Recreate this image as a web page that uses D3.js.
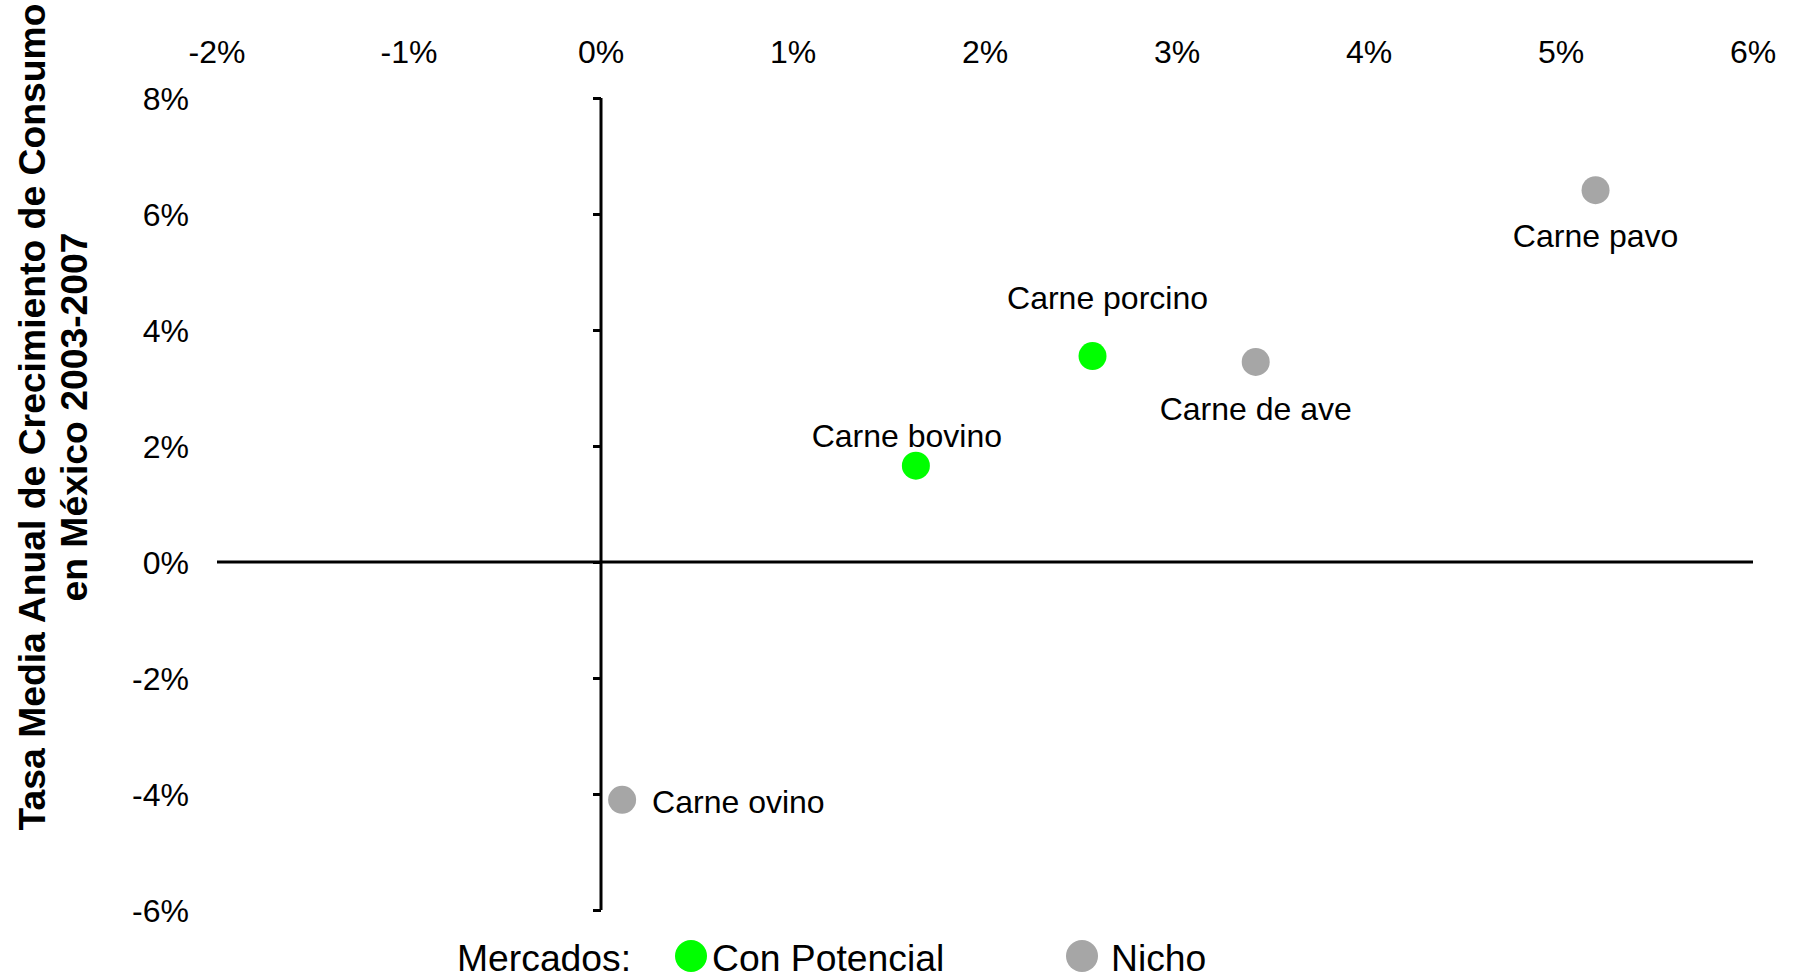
<!DOCTYPE html>
<html>
<head>
<meta charset="utf-8">
<script src="https://cdn.jsdelivr.net/npm/d3@7"></script>
<style>
    body { margin: 0; background: #fff; }
    svg { display: block; font-family: "Liberation Sans", Arial, sans-serif; }
</style>
</head>
<body>
<svg></svg>
<script>
// data (percent)
let products = ["Carne pavo", "Carne porcino", "Carne de ave", "Carne bovino", "Carne ovino"];
let growthWorld = [5.18, 2.56, 3.41, 1.64, 0.11];   // x
let growthMexico = [6.41, 3.55, 3.45, 1.66, -4.10]; // y
let market = ["Nicho", "Con Potencial", "Nicho", "Con Potencial", "Nicho"];

let xTicks = [-2, -1, 0, 1, 2, 3, 4, 5, 6];
let yTicks = [-6, -4, -2, 0, 2, 4, 6, 8];
let legendItems = ["Con Potencial", "Nicho"];

// where each label sits around its dot
let labelPlace = {
    "Carne pavo": { dx: 0, dy: 57, anchor: "middle" },
    "Carne porcino": { dx: 15, dy: -47, anchor: "middle" },
    "Carne de ave": { dx: 0, dy: 58, anchor: "middle" },
    "Carne bovino": { dx: -9, dy: -19, anchor: "middle" },
    "Carne ovino": { dx: 30, dy: 13, anchor: "start" }
};

const WIDTH = 1793, HEIGHT = 978;
let colors = d3.scaleOrdinal().domain(legendItems).range(["#00ff00", "#a6a6a6"]);

let svg = d3.select("svg").attr("width", WIDTH).attr("height", HEIGHT);

let x = d3.scaleLinear().domain([-2, 6]).range([217, 1753]),
    y = d3.scaleLinear().domain([-6, 8]).range([910, 98]);

let data = products.map((p, i) => ({ name: p, x: growthWorld[i], y: growthMexico[i], market: market[i] }));

// x tick labels on top, no axis line
svg.append("g")
    .selectAll("text")
    .data(xTicks)
    .join("text")
    .attr("x", d => x(d))
    .attr("y", 63)
    .attr("text-anchor", "middle")
    .attr("font-size", 32)
    .text(d => d + "%");

// horizontal zero line
svg.append("line")
    .attr("x1", x(-2)).attr("x2", x(6))
    .attr("y1", y(0)).attr("y2", y(0))
    .attr("stroke", "#000").attr("stroke-width", 3);

// vertical axis at x = 0
let yAxis = svg.append("g")
    .attr("transform", "translate(" + x(0) + ",0)")
    .call(d3.axisLeft(y).tickValues(yTicks).tickSize(8).tickFormat(""));
yAxis.select(".domain").attr("stroke-width", 3).attr("d", "M0," + y(8) + "V" + y(-6));
yAxis.selectAll(".tick line").attr("stroke-width", 3);

svg.append("g")
    .selectAll("text")
    .data(yTicks)
    .join("text")
    .attr("x", 189)
    .attr("y", d => y(d))
    .attr("dy", "0.36em")
    .attr("text-anchor", "end")
    .attr("font-size", 32)
    .text(d => d + "%");

// y title
let titleLines = ["Tasa Media Anual de Crecimiento de Consumo", "en México 2003-2007"];
svg.append("g")
    .selectAll("text")
    .data(titleLines)
    .join("text")
    .attr("transform", (d, i) => "translate(" + (45 + i * 42) + ",417)rotate(-90)")
    .attr("text-anchor", "middle")
    .attr("font-size", 37.3)
    .attr("font-weight", "bold")
    .text(d => d);

// points
svg.append("g")
    .selectAll("circle")
    .data(data)
    .join("circle")
    .attr("cx", d => x(d.x))
    .attr("cy", d => y(d.y))
    .attr("r", 14)
    .attr("fill", d => colors(d.market));

svg.append("g")
    .selectAll("text")
    .data(data)
    .join("text")
    .attr("x", d => x(d.x) + labelPlace[d.name].dx)
    .attr("y", d => y(d.y) + labelPlace[d.name].dy)
    .attr("text-anchor", d => labelPlace[d.name].anchor)
    .attr("font-size", 32)
    .text(d => d.name);

// legend
let legend = svg.append("g").attr("font-size", 37.3);
legend.append("text").attr("x", 457).attr("y", 971).text("Mercados:");
let legendX = [691, 1082],
    legendGap = [21, 29];
legendItems.forEach((item, i) => {
    legend.append("circle")
        .attr("cx", legendX[i]).attr("cy", 956).attr("r", 16)
        .attr("fill", colors(item));
    legend.append("text")
        .attr("x", legendX[i] + legendGap[i]).attr("y", 971)
        .text(item);
});
</script>
</body>
</html>
